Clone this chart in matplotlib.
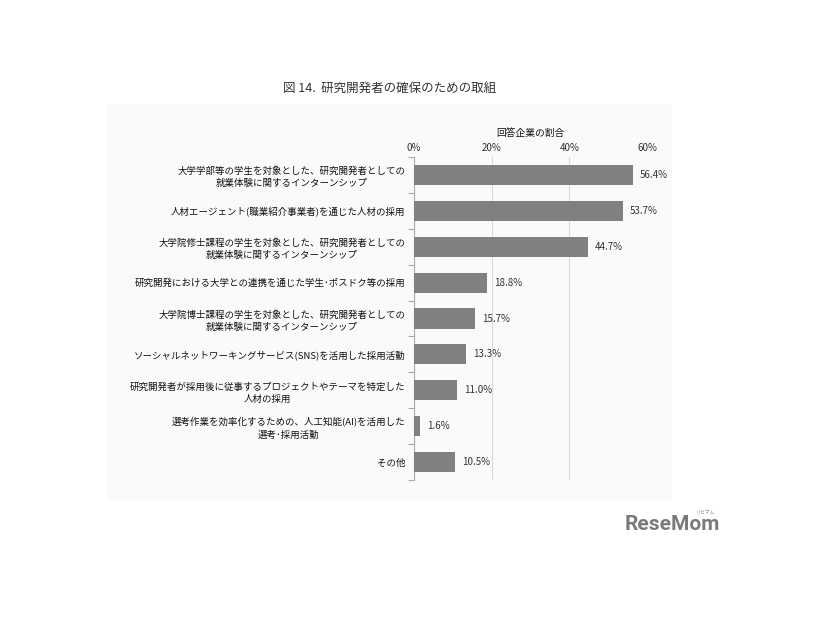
import matplotlib
matplotlib.use("Agg")
import matplotlib.pyplot as plt
from matplotlib.patches import Rectangle

plt.rcParams['font.family'] = ['Noto Sans CJK JP', 'DejaVu Sans']

title = "図 14.  研究開発者の確保のための取組"
xlabel = "回答企業の割合"
categories = [
    "大学学部等の学生を対象とした、研究開発者としての\n就業体験に関するインターンシップ",
    "人材エージェント(職業紹介事業者)を通じた人材の採用",
    "大学院修士課程の学生を対象とした、研究開発者としての\n就業体験に関するインターンシップ",
    "研究開発における大学との連携を通じた学生･ポスドク等の採用",
    "大学院博士課程の学生を対象とした、研究開発者としての\n就業体験に関するインターンシップ",
    "ソーシャルネットワーキングサービス(SNS)を活用した採用活動",
    "研究開発者が採用後に従事するプロジェクトやテーマを特定した\n人材の採用",
    "選考作業を効率化するための、人工知能(AI)を活用した\n選考･採用活動",
    "その他",
]
values = [56.4, 53.7, 44.7, 18.8, 15.7, 13.3, 11.0, 1.6, 10.5]
xticks = [0, 20, 40, 60]
xticklabels = ["0%", "20%", "40%", "60%"]

W, H = 826, 620
fig = plt.figure(figsize=(W / 100, H / 100), dpi=100)
fig.patch.set_facecolor("white")

# faint panel
fig.patches.append(Rectangle((107 / W, 1 - 500 / H), (672 - 107) / W, (500 - 104) / H,
                             transform=fig.transFigure, facecolor="#fafafa",
                             edgecolor="none", zorder=-10))

ax = fig.add_axes([414 / W, 1 - 480 / H, 233 / W, (480 - 157) / H])
ax.set_zorder(1)
ax.patch.set_visible(False)

n = len(categories)
ypos = list(range(n))
ax.barh(ypos, values, height=0.56, color="#808080", zorder=3)
ax.set_ylim(n - 0.5, -0.5)
ax.set_xlim(0, 60)

for y, v in zip(ypos, values):
    ax.text(v + 1.8, y, f"{v:.1f}%", va="center", ha="left", fontsize=7, color="#333333")

ax.xaxis.tick_top()
ax.xaxis.set_label_position("top")
ax.set_xticks(xticks)
ax.set_xticklabels(xticklabels, fontsize=7, color="#333333")
ax.tick_params(axis="x", length=0, pad=3)
ax.set_xlabel(xlabel, fontsize=7, color="#111111", labelpad=5)
ax.grid(axis="x", color="#d9d9d9", linewidth=0.8, zorder=0)

ax.set_yticks([i - 0.5 for i in range(n + 1)], minor=False)
ax.set_yticklabels([])
ax.tick_params(axis="y", which="major", length=4, color="#aaaaaa", width=0.8)
ax.set_yticks(ypos, minor=True)
ax.set_yticklabels(categories, minor=True, fontsize=6.8, color="#111111", linespacing=1.4)
ax.tick_params(axis="y", which="minor", length=0, pad=6)
for lbl in ax.get_yticklabels(minor=True):
    lbl.set_ha("right")
    lbl.set_multialignment("center")

for s in ["top", "right", "bottom"]:
    ax.spines[s].set_visible(False)
ax.spines["left"].set_color("#aaaaaa")
ax.spines["left"].set_linewidth(0.8)

fig.text(390 / W, 1 - 88 / H, title, ha="center", va="center", fontsize=9, color="#333333")

fig.text(672 / W, 1 - 525 / H, "ReseMom", ha="center", va="center", fontsize=15,
         fontweight="bold", color="#7a7a7a", family=["Roboto", "DejaVu Sans"])
fig.text(706 / W, 1 - 512 / H, "リセマム", ha="center", va="center", fontsize=3.5, color="#888888")

fig.savefig("out.png", dpi=100)
